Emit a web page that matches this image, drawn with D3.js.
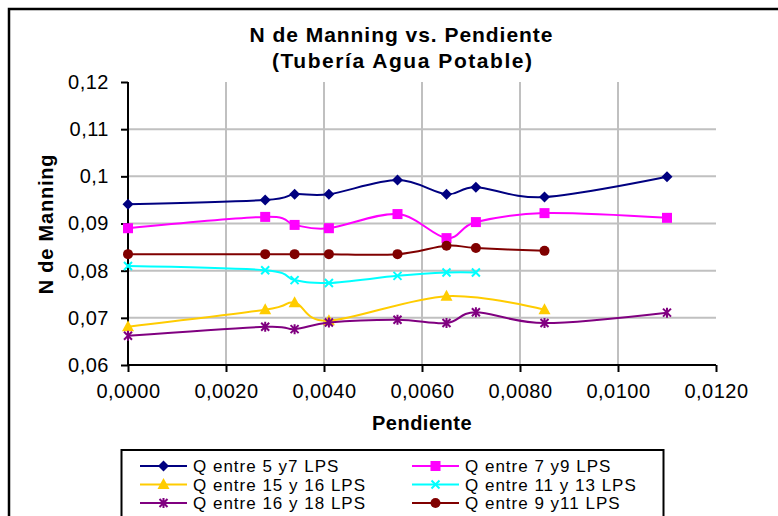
<!DOCTYPE html>
<html>
<head>
<meta charset="utf-8">
<script src="https://cdn.jsdelivr.net/npm/d3@7"></script>
<style>
  html, body { margin: 0; padding: 0; background: #fff; }
  svg { display: block; }
  text { font-family: "Liberation Sans", Arial, sans-serif; fill: #000; }
</style>
</head>
<body>
<svg id="chart" width="778" height="516"></svg>
<script>
// Slope (pendiente) of each measurement
const pendiente = [0, 0.0028, 0.0034, 0.0041, 0.0055, 0.0065, 0.0071, 0.0085, 0.0110];

// Manning's n per flow range (null = not measured)
const q5a7   = [0.0941, 0.0950, 0.0962, 0.0962, 0.0992, 0.0962, 0.0977, 0.0956, 0.0999];
const q7a9   = [0.0890, 0.0914, 0.0897, 0.0890, 0.0920, 0.0869, 0.0903, 0.0922, 0.0912];
const q15a16 = [0.0681, 0.0717, 0.0732, 0.0694, null,   0.0746, null,   0.0717, null];
const q11a13 = [0.0810, 0.0801, 0.0780, 0.0774, 0.0789, 0.0796, 0.0796, null,   null];
const q16a18 = [0.0662, 0.0681, 0.0676, 0.0690, 0.0696, 0.0689, 0.0712, 0.0689, 0.0711];
const q9a11  = [0.0835, 0.0835, 0.0835, 0.0835, 0.0835, 0.0853, 0.0848, 0.0842, null];

const seriesNames = ["Q entre 5 y7 LPS", "Q entre 7 y9 LPS", "Q entre 15 y 16 LPS",
                     "Q entre 11 y 13 LPS", "Q entre 16 y 18 LPS", "Q entre 9 y11 LPS"];

const xTicks = [0, 0.002, 0.004, 0.006, 0.008, 0.010, 0.012];
const xTickLabels = ["0,0000", "0,0020", "0,0040", "0,0060", "0,0080", "0,0100", "0,0120"];
const yTicks = [0.06, 0.07, 0.08, 0.09, 0.10, 0.11, 0.12];
const yTickLabels = ["0,06", "0,07", "0,08", "0,09", "0,1", "0,11", "0,12"];

const titleLines = ["N de Manning vs. Pendiente", "(Tubería Agua Potable)"];
const xTitle = "Pendiente";
const yTitle = "N de Manning";

const seriesValues = [q5a7, q7a9, q15a16, q11a13, q16a18, q9a11];
const colors = ["#000080", "#ff00ff", "#ffcc00", "#00ffff", "#800080", "#800000"];
const markers = ["diamond", "square", "triangle", "x", "star", "circle"];

const svg = d3.select("#chart");

// chart frame
svg.append("rect").attr("x", 9).attr("y", 9).attr("width", 790).attr("height", 530)
  .attr("fill", "#fff").attr("stroke", "#000").attr("stroke-width", 2.5);

const plot = { left: 128, right: 716, top: 82, bottom: 365 };
const x = d3.scaleLinear().domain([0, 0.012]).range([plot.left, plot.right]);
const y = d3.scaleLinear().domain([0.06, 0.12]).range([plot.bottom, plot.top]);

// gridlines
const grid = svg.append("g").attr("stroke", "#c0c0c0").attr("stroke-width", 2);
grid.selectAll("line.v").data(xTicks.slice(1, -1)).join("line")
  .attr("x1", d => x(d)).attr("x2", d => x(d))
  .attr("y1", plot.top).attr("y2", plot.bottom);
grid.selectAll("line.h").data(yTicks.slice(1, -1)).join("line")
  .attr("x1", plot.left).attr("x2", plot.right)
  .attr("y1", d => y(d)).attr("y2", d => y(d));

// axes
const xAxis = d3.axisBottom(x).tickValues(xTicks).tickSize(7).tickPadding(12)
  .tickFormat((d, i) => xTickLabels[i]);
const yAxis = d3.axisLeft(y).tickValues(yTicks).tickSize(7).tickPadding(12)
  .tickFormat((d, i) => yTickLabels[i]);

function styleAxis(g) {
  g.select(".domain").attr("stroke", "#000").attr("stroke-width", 2);
  g.selectAll(".tick line").attr("stroke", "#000").attr("stroke-width", 2);
  g.selectAll(".tick text").attr("font-size", 20).attr("fill", "#000")
    .attr("letter-spacing", 0.5)
    .attr("font-family", '"Liberation Sans", Arial, sans-serif');
}
svg.append("g").attr("transform", `translate(0,${plot.bottom})`).call(xAxis)
  .call(g => g.select(".domain").attr("d", `M${plot.left},0H${plot.right}`))
  .call(styleAxis);
svg.append("g").attr("transform", `translate(${plot.left},0)`).call(yAxis)
  .call(g => g.select(".domain").attr("d", `M0,${plot.top}V${plot.bottom}`))
  .call(styleAxis);

// titles
svg.append("text").attr("x", 401).attr("y", 42).attr("text-anchor", "middle")
  .attr("font-size", 21).attr("font-weight", "bold")
  .attr("textLength", 303).attr("lengthAdjust", "spacing").text(titleLines[0]);
svg.append("text").attr("x", 402).attr("y", 68).attr("text-anchor", "middle")
  .attr("font-size", 21).attr("font-weight", "bold")
  .attr("textLength", 260).attr("lengthAdjust", "spacing").text(titleLines[1]);
svg.append("text").attr("x", 422).attr("y", 430).attr("text-anchor", "middle")
  .attr("font-size", 20).attr("font-weight", "bold").attr("letter-spacing", 0.5)
  .text(xTitle);
svg.append("text").attr("transform", "translate(53,224) rotate(-90)")
  .attr("text-anchor", "middle").attr("font-size", 20).attr("font-weight", "bold")
  .attr("letter-spacing", 0.8).text(yTitle);

// marker shapes
function drawMarker(g, type, color) {
  switch (type) {
    case "diamond":
      g.append("path").attr("d", "M0,-5.5L5.5,0L0,5.5L-5.5,0Z").attr("fill", color); break;
    case "square":
      g.append("rect").attr("x", -5).attr("y", -5).attr("width", 10).attr("height", 10).attr("fill", color); break;
    case "triangle":
      g.append("path").attr("d", "M0,-6.5L6,4.5L-6,4.5Z").attr("fill", color); break;
    case "circle":
      g.append("circle").attr("r", 5).attr("fill", color); break;
    case "x":
      g.append("path").attr("d", "M-4,-4L4,4M-4,4L4,-4").attr("stroke", color).attr("stroke-width", 2).attr("fill", "none"); break;
    case "star":
      g.append("path").attr("d", "M-4,-4L4,4M-4,4L4,-4M0,-5V5").attr("stroke", color).attr("stroke-width", 2).attr("fill", "none"); break;
  }
}

// series lines and markers
const line = d3.line().x(d => x(d[0])).y(d => y(d[1])).curve(d3.curveCardinal.tension(0));
seriesValues.forEach((vals, i) => {
  const pts = pendiente.map((p, j) => [p, vals[j]]).filter(d => d[1] != null);
  const g = svg.append("g");
  g.append("path").datum(pts).attr("d", line).attr("fill", "none")
    .attr("stroke", colors[i]).attr("stroke-width", 2);
  pts.forEach(d => {
    const m = g.append("g").attr("transform", `translate(${x(d[0])},${y(d[1])})`);
    drawMarker(m, markers[i], colors[i]);
  });
});

// legend
const legend = svg.append("g");
legend.append("rect").attr("x", 121.5).attr("y", 450).attr("width", 542).attr("height", 80)
  .attr("fill", "#fff").attr("stroke", "#000").attr("stroke-width", 2);
const colX = [140, 412];
const rowY = [466, 484.5, 503];
seriesNames.forEach((name, i) => {
  const cx = colX[i % 2], cy = rowY[Math.floor(i / 2)];
  legend.append("line").attr("x1", cx).attr("x2", cx + 47).attr("y1", cy).attr("y2", cy)
    .attr("stroke", colors[i]).attr("stroke-width", 2);
  const m = legend.append("g").attr("transform", `translate(${cx + 23.5},${cy})`);
  drawMarker(m, markers[i], colors[i]);
  legend.append("text").attr("x", cx + 53).attr("y", cy + 6).attr("font-size", 17)
    .attr("letter-spacing", 1).text(name);
});
</script>
</body>
</html>
